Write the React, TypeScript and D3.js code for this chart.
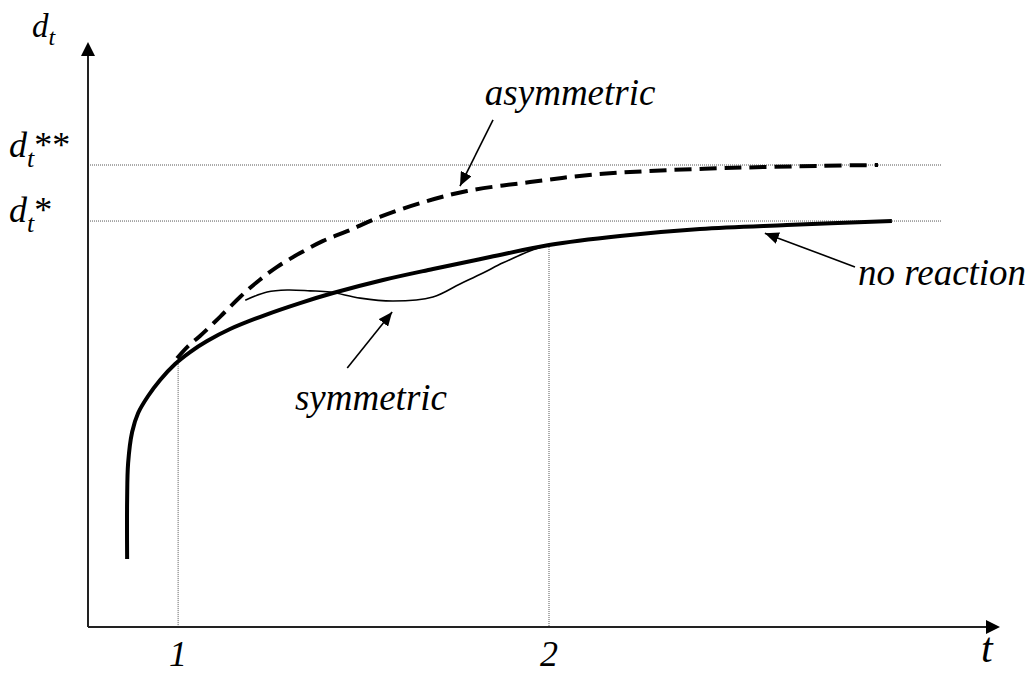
import React from "react";
import * as d3 from "d3";

// ---- data (t, d) ----
const noReactionT = [0.8625, 0.8625, 0.8652, 0.876, 0.8922, 0.9191, 0.9515, 0.9919, 1.0323, 1.0782, 1.1402, 1.2345, 1.3288, 1.4178, 1.5526, 1.6873, 1.841, 2.0, 2.1914, 2.407, 2.6415, 2.9245];
const noReactionD = [0.1675, 0.3128, 0.4039, 0.4803, 0.5271, 0.569, 0.6084, 0.6478, 0.6773, 0.7044, 0.734, 0.7685, 0.798, 0.8227, 0.8547, 0.8818, 0.9113, 0.9409, 0.9631, 0.9803, 0.9901, 1.0];

const asymT = [0.997, 1.027, 1.059, 1.113, 1.167, 1.213, 1.267, 1.329, 1.391, 1.456, 1.544, 1.652, 1.779, 1.949, 2.102, 2.264, 2.496, 2.73, 2.887];
const asymD = [0.662, 0.692, 0.717, 0.764, 0.813, 0.85, 0.887, 0.921, 0.951, 0.975, 1.01, 1.044, 1.074, 1.096, 1.113, 1.123, 1.131, 1.136, 1.138];

const symT = [1.181, 1.24, 1.294, 1.356, 1.41, 1.491, 1.58, 1.687, 1.76, 1.822, 1.876, 1.957, 2.0];
const symD = [0.805, 0.825, 0.83, 0.828, 0.825, 0.81, 0.803, 0.813, 0.845, 0.872, 0.897, 0.929, 0.9409];

const refLevels = [1.0, 1.138]; // d_t*, d_t**
const tickValues = [1, 2];
const tickLabels = ["1", "2"];
const guideTopD = [0.658, 0.9409];

// annotations: [fromT, fromD, toT, toD]
const arrowAsym = [1.849, 1.249, 1.76, 1.086];
const arrowNoReaction = [2.825, 0.887, 2.582, 0.97];
const arrowSym = [1.456, 0.638, 1.577, 0.776];

const T_MIN = 0.757, T_MAX = 3.216, D_MIN = 0, D_MAX = 1.441;

const W = 1031, H = 673;
const FONT = '"Liberation Serif"';

export default function App() {
  const x = d3.scaleLinear().domain([T_MIN, T_MAX]).range([88, 1000]);
  const y = d3.scaleLinear().domain([D_MIN, D_MAX]).range([627, 42]);

  const line = d3
    .line<[number, number]>()
    .x((p) => x(p[0]))
    .y((p) => y(p[1]))
    .curve(d3.curveCatmullRom.alpha(0.5));

  const zip = (a: number[], b: number[]) => a.map((v, i) => [v, b[i]] as [number, number]);

  const noReaction = zip(noReactionT, noReactionD);
  const asym = zip(asymT, asymD);
  const sym = zip(symT, symD);

  const x0 = x(T_MIN), y0 = y(D_MIN);

  const arrow = (a: number[], key: string) => (
    <line
      key={key}
      x1={x(a[0])}
      y1={y(a[1])}
      x2={x(a[2])}
      y2={y(a[3])}
      stroke="#000"
      strokeWidth={1.6}
      markerEnd="url(#head)"
    />
  );

  const it: React.CSSProperties = { fontFamily: FONT, fontStyle: "italic" };
  const up: React.CSSProperties = { fontFamily: FONT, fontStyle: "normal" };

  return (
    <svg
      width={W}
      height={H}
      style={{ position: "absolute", left: 0, top: 0, background: "#fff" }}
    >
      <defs>
        <marker
          id="head"
          viewBox="0 0 14 12"
          refX={14}
          refY={6}
          markerWidth={14}
          markerHeight={12}
          markerUnits="userSpaceOnUse"
          orient="auto"
        >
          <path d="M0,0 L14,6 L0,12 Z" fill="#000" />
        </marker>
      </defs>

      {/* dotted reference lines */}
      {refLevels.map((lv, i) => (
        <line
          key={"h" + i}
          x1={x0}
          x2={942}
          y1={y(lv)}
          y2={y(lv)}
          stroke="#555"
          strokeWidth={1}
          strokeDasharray="1 1"
        />
      ))}
      {tickValues.map((t, i) => (
        <line
          key={"v" + i}
          x1={x(t)}
          x2={x(t)}
          y1={y(guideTopD[i])}
          y2={y0}
          stroke="#555"
          strokeWidth={1}
          strokeDasharray="1 1"
        />
      ))}

      {/* axes */}
      <line x1={x0} y1={y0} x2={987} y2={y0} stroke="#222" strokeWidth={2} />
      <path d={`M1000,${y0} L986,${y0 - 7} L986,${y0 + 7} Z`} fill="#000" />
      <line x1={x0} y1={y0} x2={x0} y2={55} stroke="#222" strokeWidth={2} />
      <path d={`M${x0},42 L${x0 - 7},56 L${x0 + 7},56 Z`} fill="#000" />

      {/* curves */}
      <path d={line(asym) || ""} fill="none" stroke="#000" strokeWidth={4} strokeDasharray="17 8" />
      <path d={line(sym) || ""} fill="none" stroke="#000" strokeWidth={1.6} />
      <path d={line(noReaction) || ""} fill="none" stroke="#000" strokeWidth={4} strokeLinecap="butt" />

      {/* annotation arrows */}
      {arrow(arrowAsym, "a1")}
      {arrow(arrowNoReaction, "a2")}
      {arrow(arrowSym, "a3")}

      {/* labels */}
      <g fill="#000">
        <text x={x(1.827)} y={y(1.286)} fontSize={37} style={it}>asymmetric</text>
        <text x={x(2.833)} y={y(0.842)} fontSize={37} style={it}>no reaction</text>
        <text x={x(1.315)} y={y(0.534)} fontSize={37} style={it}>symmetric</text>

        {tickValues.map((t, i) => (
          <text key={"t" + i} x={x(t)} y={666} fontSize={36} textAnchor="middle" style={it}>
            {tickLabels[i]}
          </text>
        ))}
        <text x={981} y={662} fontSize={42} style={it}>t</text>

        <text x={32} y={37} fontSize={33} style={it}>
          d<tspan fontSize={24} dy={8}>t</tspan>
        </text>
        <text x={9} y={157} fontSize={36} style={it}>
          d<tspan fontSize={26} dy={10}>t</tspan>
          <tspan fontSize={36} dy={-10} style={up}>**</tspan>
        </text>
        <text x={9} y={222} fontSize={36} style={it}>
          d<tspan fontSize={26} dy={10}>t</tspan>
          <tspan fontSize={36} dy={-10} style={up}>*</tspan>
        </text>
      </g>
    </svg>
  );
}
